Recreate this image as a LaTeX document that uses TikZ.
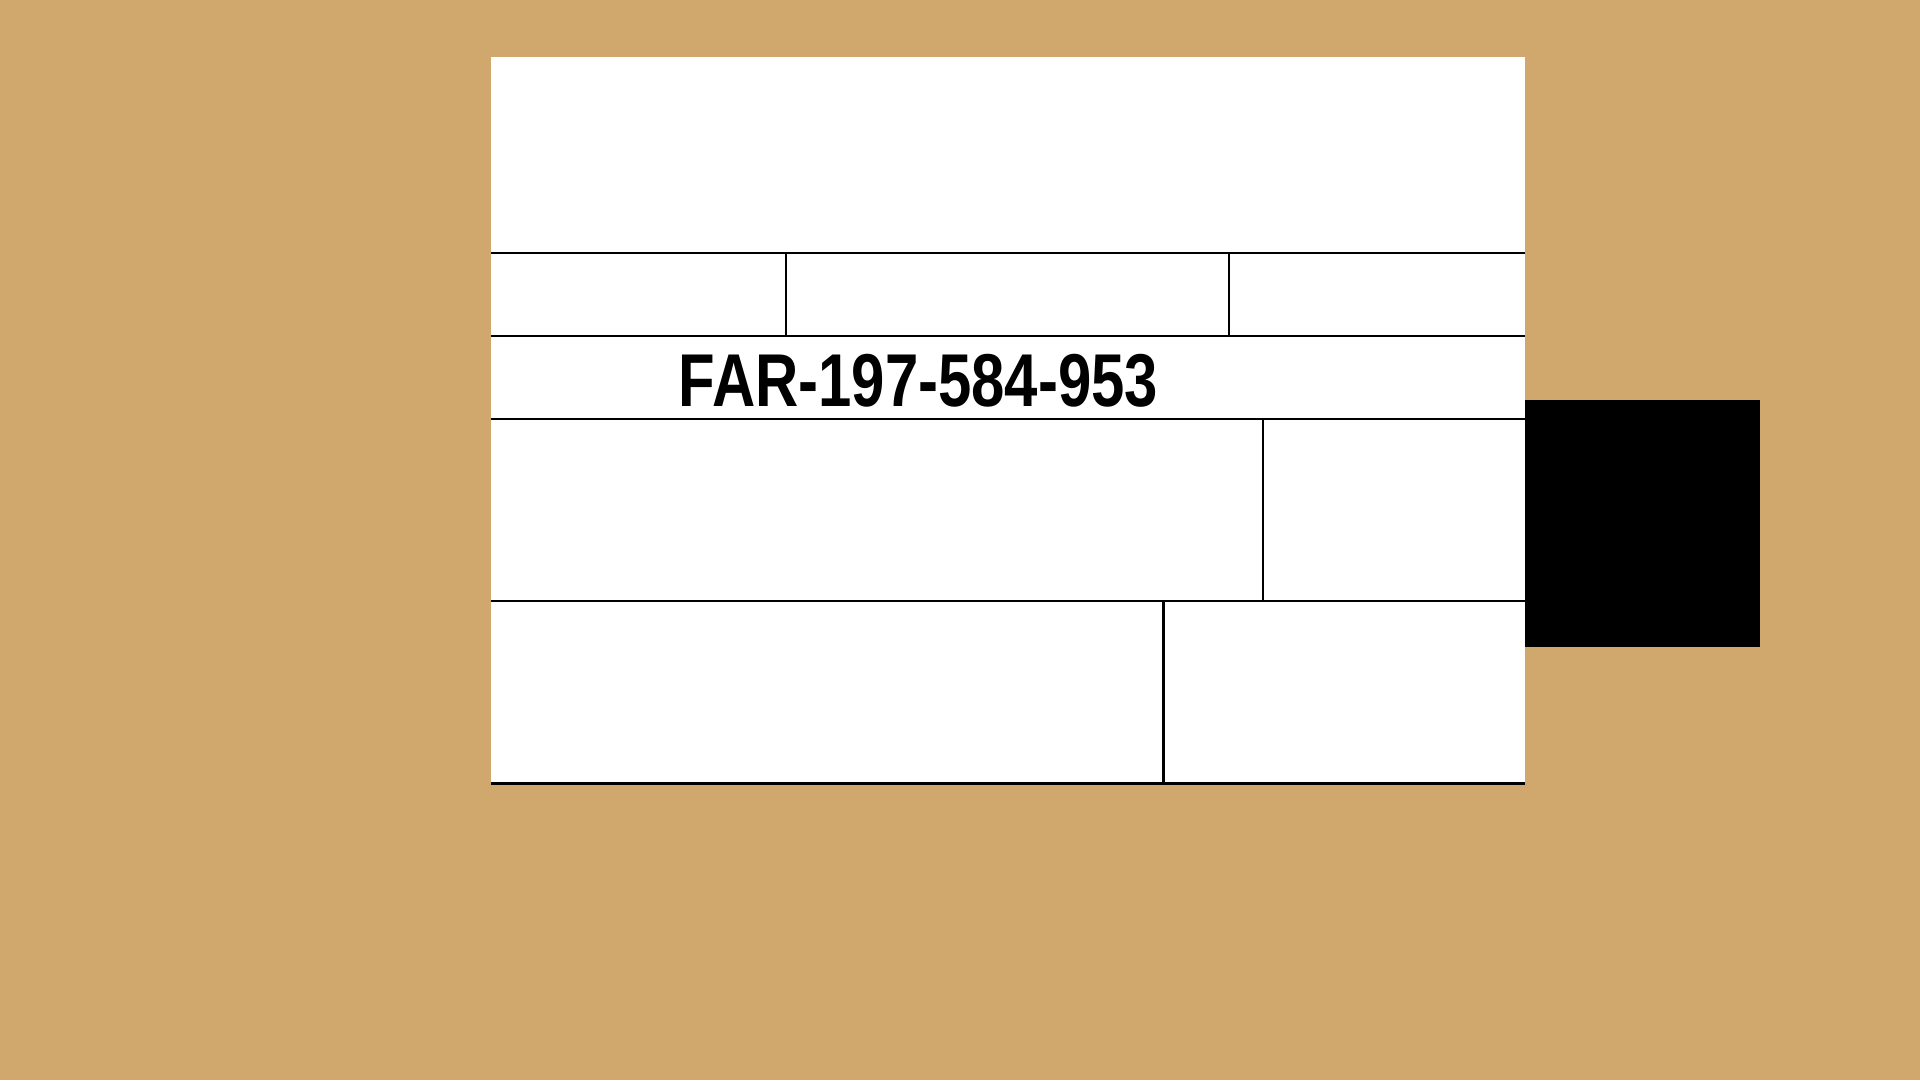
\documentclass[tikz,border=0pt]{standalone}
\usepackage{fontspec}
\newfontfamily\platefont[FakeStretch=0.8]{Liberation Sans}
\definecolor{cardboard}{HTML}{D0A86E}
\begin{document}
\begin{tikzpicture}[x=0.1mm, y=-0.1mm, rule/.style={line width=0.6pt}]
    \useasboundingbox (0,0) rectangle (1920,1080);
    \fill[cardboard] (0,0) rectangle (1920,1080);
    \fill[white] (491,57) rectangle (1525,785);
    \fill[black] (1525,400) rectangle (1760,647);
    \foreach \y in {253.3, 336.2, 419.3, 601.3, 783.5}
        \draw[rule] (491,\y) -- (1525,\y);
    \draw[rule] (786.3,253.3) -- (786.3,336.2);
    \draw[rule] (1228.7,253.3) -- (1228.7,336.2);
    \draw[rule] (1262.7,419.3) -- (1262.7,601.3);
    \draw[rule] (1163.5,601.3) -- (1163.5,783.5);
    \node[anchor=base, inner sep=0pt, font=\platefont\bfseries\fontsize{21.3pt}{25pt}\selectfont] (plate) at (918.5,406.7) {FAR-197-584-953};
\end{tikzpicture}
\end{document}
